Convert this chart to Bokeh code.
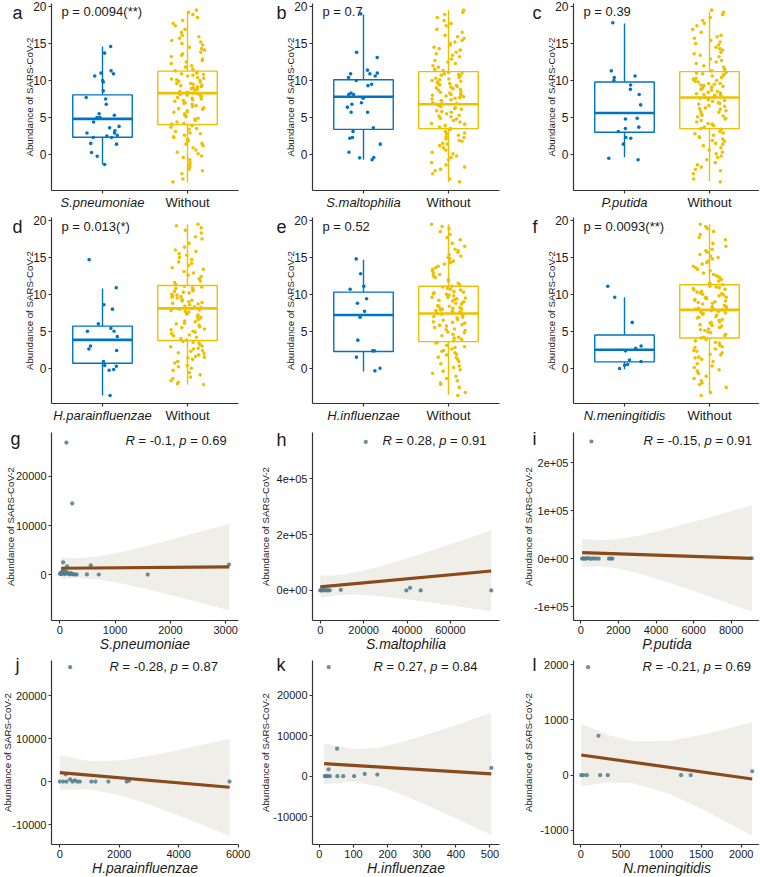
import math
from bokeh.plotting import figure
from bokeh.models import Range1d, Label, FixedTicker, LinearAxis
from bokeh.layouts import gridplot
from bokeh.embed import file_html
from bokeh.resources import INLINE

FONT = "Liberation Sans"
BLUE = "#0073C2"
YEL = "#EFC000"
PT_COLOR = "#4E7C8C"
LINE = "#8B4A1C"
BAND = "#EFEEE8"
TXT = "#1a1a1a"
AX = "#333333"

# ---------------- data: box plots ----------------
box_names = ["S.pneumoniae", "S.maltophilia", "P.putida",
             "H.parainfluenzae", "H.influenzae", "N.meningitidis"]
box_letters = ["a", "b", "c", "d", "e", "f"]
box_pvals = ["p = 0.0094(**)", "p = 0.7", "p = 0.39",
             "p = 0.013(*)", "p = 0.52", "p = 0.0093(**)"]
box_yticks = [0, 5, 10, 15, 20]

a_with = [14.6, 13.7, 11.0, 10.6, 10.9, 11.3, 10.0, 9.8, 8.6, 7.7, 7.5, 6.8, 5.5, 5.3, 5.0, 5.0,
          4.4, 3.8, 3.6, 3.2, 2.9, 2.9, 2.5, 2.6, 2.3, 2.3, 1.5, 1.4, 0.27, -0.23, -1.35]
b_with = [19.0, 13.8, 13.1, 11.4, 11.0, 10.9, 10.9, 10.6, 10.4, 10.0, 9.5, 9.3, 8.3, 8.1, 8.1,
          7.6, 7.0, 6.8, 6.4, 5.7, 5.7, 3.6, 3.1, 2.3, 2.2, 1.4, 0.3, -0.4, -0.45, -0.7]
c_with = [17.8, 11.3, 10.6, 10.4, 10.0, 9.4, 8.1, 8.8, 6.7, 4.9, 4.8, 3.7, 3.5, 3.1, 2.2, 2.3,
          1.4, -0.5, -0.7]
d_with = [14.7, 10.9, 8.6, 8.0, 6.0, 5.4, 5.0, 5.0, 4.3, 3.0, 2.4, 2.6, 0.9, 0.27, 0.36, -0.27,
          -0.18, -3.7]
e_with = [14.8, 12.8, 11.1, 10.7, 9.4, 8.8, 7.7, 6.9, 3.8, 2.35, 1.5, 2.35, -0.36, 0.0]
f_with = [11.1, 9.6, 6.2, 2.7, 3.0, 2.35, 1.1, 0.9, 0.5, 0.4, -0.05]

without_main = [
    -3.7, -3.3, -2.6, -2.2, -2.0, -1.7, -1.4, -1.1, -0.7, -0.4, -0.2, 0.1,
    0.3, 0.6, 0.9, 1.2, 1.4, 1.5, 1.8, 1.9,
    2.1, 2.3, 2.4, 2.6, 2.8, 2.9, 3.1, 3.4, 3.5, 3.7, 3.9,
    4.1, 4.2, 4.4, 4.6, 4.8, 4.9, 5.1, 5.2, 5.3, 5.5, 5.7, 5.8, 5.9, 6.1, 6.2, 6.3,
    6.5, 6.6, 6.8, 6.9, 7.0, 7.2, 7.3, 7.4, 7.5, 7.6, 7.7, 7.8, 7.9, 8.0, 8.0,
    8.1, 8.2, 8.3, 8.4, 8.5, 8.7, 8.8, 8.9, 9.0, 9.1, 9.2, 9.3, 9.4, 9.5, 9.6, 9.6,
    9.8, 9.9, 10.0, 10.1, 10.2, 10.3, 10.4, 10.6, 10.7, 10.8, 10.9, 11.0, 11.1,
    11.3, 11.5, 11.8, 12.0, 12.3, 12.5, 12.7, 12.9, 13.2, 13.4, 13.6, 13.8, 14.1,
    14.3, 14.5, 14.8, 15.0, 15.2, 15.4, 15.7, 15.9, 16.1, 16.5, 16.9, 17.4, 17.7,
    18.1, 18.5, 18.9, 19.2, 19.5]
without_d = [
    -2.2, -2.1, -1.9, -1.7, -1.4, -1.2, -0.9, -0.6, -0.3, 0.0, 0.2,
    0.4, 0.7, 0.9, 1.2, 1.4, 1.5, 1.6, 1.8, 2.0,
    2.1, 2.3, 2.4, 2.6, 2.7, 2.9, 3.0, 3.2, 3.4, 3.5, 3.6, 3.8,
    4.0, 4.2, 4.4, 4.5, 4.7, 4.9, 5.0, 5.2, 5.3, 5.5, 5.6, 5.8, 6.0, 6.1, 6.3,
    6.4, 6.6, 6.7, 6.9, 7.0, 7.2, 7.3, 7.4, 7.6, 7.7, 7.8, 7.9, 8.0, 8.1,
    8.2, 8.3, 8.4, 8.6, 8.7, 8.8, 8.9, 9.0, 9.1, 9.2, 9.3, 9.5, 9.6, 9.7,
    9.8, 9.9, 10.0, 10.2, 10.3, 10.4, 10.5, 10.6, 10.8, 10.9, 11.0, 11.1,
    11.3, 11.6, 11.8, 12.1, 12.4, 12.6, 12.9, 13.1, 13.4, 13.6, 13.9, 14.2,
    14.4, 14.7, 15.0, 15.3, 15.5, 15.8, 16.0, 16.4, 16.9, 17.5, 17.8, 18.3,
    18.7, 19.0, 19.3, 19.5]

# box statistics: [lower whisker, Q1, median, Q3, upper whisker]
a_with_stats = [-1.35, 2.34, 4.82, 8.06, 14.6]
a_wo_stats = [-3.74, 4.05, 8.29, 11.26, 19.4]
b_with_stats = [-0.7, 3.4, 7.8, 10.1, 18.9]
b_wo_stats = [-3.7, 3.5, 6.8, 11.2, 19.5]
c_with_stats = [-0.36, 3.0, 5.6, 9.8, 17.7]
c_wo_stats = [-3.6, 3.5, 7.7, 11.2, 19.3]
d_with_stats = [-3.7, 0.68, 3.84, 5.7, 10.8]
d_wo_stats = [-2.2, 3.75, 8.1, 11.2, 19.5]
e_with_stats = [-0.45, 2.26, 7.2, 10.3, 14.7]
e_wo_stats = [-3.6, 3.6, 7.4, 11.1, 19.5]
f_with_stats = [-0.14, 0.86, 2.5, 4.5, 9.6]
f_wo_stats = [-3.4, 4.1, 7.9, 11.3, 19.5]

# ---------------- data: scatter plots ----------------
g_x = [5, 15, 25, 35, 45, 60, 75, 90, 105, 125, 140, 160, 180, 200, 220, 245, 275, 305,
       490, 705, 1590, 60, 130, 560, 3060, 120, 225]
g_y = [150, 300, 80, 500, 200, 900, 350, 100, 600, 250, 400, 150, 50, 300, 100, 60, 40, 20,
       30, 20, 10, 2500, 1700, 1900, 2050, 26900, 14500]
g_fit_x = [24, 3066]
g_fit_y = [1290, 1560]
g_band_x = [24, 300, 700, 1200, 1800, 2400, 3066]
g_band_lo = [-885, -685, -1003, -2038, -3613, -5310, -7245]
g_band_hi = [3465, 3315, 3703, 4826, 6509, 8312, 10365]

h_x = [0, 400, 900, 1500, 2200, 2900, 3600, 4400, 9500, 39700, 41400, 46300, 78800, 21000]
h_y = [200, 0, 600, 100, 900, 300, 0, 500, 1800, 0, 9500, 0, 0, 531000]
h_fit_x = [0, 78800]
h_fit_y = [12900, 69480]
h_band_x = [0, 8000, 16000, 28000, 42000, 60000, 78800]
h_band_lo = [-26430, -17356, -14942, -20513, -33287, -53090, -75300]
h_band_hi = [52230, 54644, 63718, 86521, 119399, 165050, 214000]

i_x = [70, 130, 200, 280, 360, 450, 560, 680, 800, 950, 1500, 1580, 1680, 566, 9100]
i_y = [0, 800, 300, 0, 1500, 200, 0, 600, 100, 0, 0, 400, 0, 243750, 1000]
i_fit_x = [70, 9100]
i_fit_y = [12524, 649]
i_band_x = [70, 900, 1800, 3000, 4500, 6500, 9100]
i_band_lo = [-16583, -15568, -19214, -29877, -47647, -74103, -110111]
i_band_hi = [41631, 38432, 39710, 47217, 61041, 82237, 111409]

j_x = [0, 112, 224, 347, 425, 504, 582, 672, 1064, 1198, 1635, 2250, 2330, 5711, 347, 200]
j_y = [0, 0, 0, 540, 0, 300, 0, 0, 0, 0, 0, 0, 200, 0, 26600, 1700]
j_fit_x = [0, 5715]
j_fit_y = [2108, -1310]
j_band_x = [0, 1000, 2000, 3000, 4000, 5000, 5715]
j_band_lo = [-1907, -1790, -3103, -5326, -7897, -10606, -12587]
j_band_hi = [6123, 4810, 4927, 5954, 7329, 8842, 9967]

k_x = [16, 20, 25, 27.5, 27, 31, 52, 53, 70, 102, 133, 170, 504]
k_y = [0, 0, 0, 26900, 1700, 0, 6800, 0, 0, 0, 570, 400, 2050]
k_fit_x = [14, 504]
k_fit_y = [3100, 562]
k_band_x = [14, 100, 175, 250, 325, 410, 504]
k_band_lo = [-1958, -1345, -2560, -4842, -7545, -10806, -14522]
k_band_hi = [8158, 6655, 7092, 8598, 10523, 12904, 15646]

l_x = [5, 30, 75, 91, 220, 241, 336, 1250, 1370, 2137]
l_y = [0, 0, 0, 1956, 714, 0, 0, 0, 0, 72]
l_fit_x = [5, 2137]
l_fit_y = [366, -68]
l_band_x = [5, 350, 650, 1100, 1500, 1800, 2137]
l_band_lo = [-198, -131, -145, -335, -606, -834, -1101]
l_band_hi = [930, 722, 615, 621, 729, 834, 964]

scatter_names = ["S.pneumoniae", "S.maltophilia", "P.putida",
                 "H.parainfluenzae", "H.influenzae", "N.meningitidis"]
scatter_letters = ["g", "h", "i", "j", "k", "l"]
scatter_r = ["-0.1", "0.28", "-0.15", "-0.28", "0.27", "-0.21"]
scatter_p = ["0.69", "0.91", "0.91", "0.87", "0.84", "0.69"]

g_xticks = [0, 1000, 2000, 3000]
h_xticks = [0, 20000, 40000, 60000]
i_xticks = [0, 2000, 4000, 6000, 8000]
j_xticks = [0, 2000, 4000, 6000]
k_xticks = [0, 100, 200, 300, 400, 500]
l_xticks = [0, 500, 1000, 1500, 2000]
g_yticks = [0, 10000, 20000]
g_ylabels = ["0", "10000", "20000"]
h_yticks = [0, 200000, 400000]
h_ylabels = ["0e+00", "2e+05", "4e+05"]
i_yticks = [-100000, 0, 100000, 200000]
i_ylabels = ["-1e+05", "0e+00", "1e+05", "2e+05"]
j_yticks = [-10000, 0, 10000, 20000]
j_ylabels = ["-10000", "0", "10000", "20000"]
k_yticks = [-10000, 0, 10000, 20000]
k_ylabels = ["-10000", "0", "10000", "20000"]
l_yticks = [-1000, 0, 1000, 2000]
l_ylabels = ["-1000", "0", "1000", "2000"]

# ---------------- layout geometry (pixels) ----------------
COLW = [261, 261, 237]       # figure widths
PLEFT = [51, 51, 51]         # left edge of the plotting box inside each figure
FW = 187                     # width of the plotting box
ROWH = [213, 215, 224, 224]  # figure heights
PTOP = [3, 4, 4, 8]          # top edge of the plotting box
FH = [187, 186, 188, 184]    # height of the plotting box
PBOT = [ROWH[r] - PTOP[r] - FH[r] for r in range(4)]

CW = {' ': .278, '=': .584, '-': .333, '.': .278, ',': .278, 'R': .722, 'p': .556}


def text_w(s, size):
    return sum(CW.get(ch, .556) for ch in s) * size


def jitter(n, seed, width=0.2):
    out = []
    for i in range(n):
        v = math.sin((i + 1) * 12.9898 + seed * 78.233) * 43758.5453
        out.append((v - math.floor(v) - 0.5) * 2 * width)
    return out


def style_axis(ax, size):
    ax.axis_line_color = AX
    ax.axis_line_width = 1.2
    ax.major_tick_line_color = AX
    ax.major_tick_line_width = 1.2
    ax.major_tick_out = 3
    ax.major_tick_in = 0
    ax.minor_tick_line_color = None
    ax.major_label_text_font = FONT
    ax.major_label_text_font_size = size
    ax.major_label_text_color = TXT
    ax.major_label_standoff = 2


def make_fig(col, row, xr, yr, tick_size):
    W, H = COLW[col], ROWH[row]
    L, T, B = PLEFT[col], PTOP[row], PBOT[row]
    sx = (xr[1] - xr[0]) / FW
    sy = (yr[1] - yr[0]) / FH[row]
    X = (xr[0] - L * sx, xr[1] + (W - L - FW) * sx)
    Y = (yr[0] - B * sy, yr[1] + T * sy)
    p = figure(width=W, height=H, x_range=Range1d(*X), y_range=Range1d(*Y),
               output_backend="svg", toolbar_location=None,
               min_border_left=0, min_border_right=0, min_border_top=0, min_border_bottom=0)
    p.outline_line_color = None
    p.xgrid.visible = False
    p.ygrid.visible = False
    p.background_fill_color = "white"
    p.border_fill_color = "white"
    p.yaxis.fixed_location = xr[0]
    p.yaxis.bounds = (yr[0], yr[1])
    p.xaxis.fixed_location = yr[0]
    p.xaxis.bounds = (xr[0], xr[1])
    style_axis(p.xaxis[0], tick_size)
    style_axis(p.yaxis[0], tick_size)
    return p


def add_text(p, x, y, text, size, style="normal", align="left", angle=0.0, xu="screen"):
    # y is the vertical centre of the text, in pixels up from the figure bottom
    p.add_layout(Label(x=x, y=y, x_units=xu, y_units="screen", text=text, text_font=FONT,
                       text_font_size=size, text_font_style=style, text_color=TXT,
                       text_align=align, text_baseline="middle", angle=angle))


def box_panel(idx, with_pts, wo_pts, st_with, st_wo):
    col, row = idx % 3, idx // 3
    xr = (0.4, 2.6)
    yr = (-4.86, 20.4) if row == 0 else (-4.78, 20.41)
    p = make_fig(col, row, xr, yr, "12px")
    L, T, B, H = PLEFT[col], PTOP[row], PBOT[row], ROWH[row]
    p.yaxis.ticker = FixedTicker(ticks=box_yticks)
    # category labels: italic species name on the main axis, plain "Without" on a second one
    p.xaxis.ticker = FixedTicker(ticks=[1])
    p.xaxis.major_label_overrides = {1: box_names[idx]}
    p.xaxis.major_label_text_font_style = "italic"
    p.xaxis.major_label_text_font_size = "13px"
    p.xaxis.major_label_standoff = 1
    ax2 = LinearAxis(ticker=FixedTicker(ticks=[2]), major_label_overrides={2: "Without"},
                     fixed_location=yr[0], bounds=xr)
    style_axis(ax2, "13px")
    ax2.axis_line_color = None
    ax2.major_label_standoff = 1
    p.add_layout(ax2, "below")
    groups = [(with_pts, st_with, BLUE), (wo_pts, st_wo, YEL)]
    for k, (pts, st, c) in enumerate(groups):
        x = k + 1
        p.segment(x0=[x, x], y0=[st[0], st[3]], x1=[x, x], y1=[st[1], st[4]],
                  line_color=c, line_width=1.4)
        p.quad(left=[x - 0.35], right=[x + 0.35], bottom=[st[1]], top=[st[3]],
               fill_color="white", line_color=c, line_width=1.4)
        p.segment(x0=[x - 0.35], y0=[st[2]], x1=[x + 0.35], y1=[st[2]],
                  line_color=c, line_width=2.6)
    for k, (pts, st, c) in enumerate(groups):
        off = jitter(len(pts), idx * 2 + k + 1)
        p.scatter([k + 1 + o for o in off], pts, size=3.6, color=c, line_color=None)
    ldx = [-39, -36, -41][col]
    add_text(p, L + ldx, H - T - 9, box_letters[idx], "18px")
    add_text(p, L + 10, H - T - (7.5 if row == 0 else 8.5), box_pvals[idx], "13px")
    add_text(p, L - 22.5, B + FH[row] / 2.0, "Abundance of SARS-CoV-2", "9.7px",
             align="center", angle=math.pi / 2)
    return p


def scatter_panel(idx, xs, ys, fx, fy, bx, blo, bhi, xr, yr, xt, yt, ytl, pos):
    col, row = idx % 3, 2 + idx // 3
    p = make_fig(col, row, xr, yr, "11px")
    L, T, B, H = PLEFT[col], PTOP[row], PBOT[row], ROWH[row]
    p.xaxis.ticker = FixedTicker(ticks=xt)
    p.xaxis.major_label_overrides = {v: str(v) for v in xt}
    p.yaxis.ticker = FixedTicker(ticks=yt)
    p.yaxis.major_label_overrides = {v: s for v, s in zip(yt, ytl)}
    p.varea(x=bx, y1=blo, y2=bhi, fill_color=BAND, fill_alpha=1.0)
    p.scatter(xs, ys, size=4.2, color=PT_COLOR, alpha=0.85, line_color=None)
    p.line(fx, fy, line_color=LINE, line_width=3.2)
    add_text(p, L + pos["ldx"], H - T - pos["ldy"], scatter_letters[idx], "18px")
    parts = [("R", "italic"), (" = " + scatter_r[idx] + ", ", "normal"),
             ("p", "italic"), (" = " + scatter_p[idx], "normal")]
    x = L + pos["rdx"]
    for s, st in parts:
        lead = len(s) - len(s.lstrip(" "))
        add_text(p, x + lead * 0.278 * 13, H - T - pos["rdy"], s.strip(" "), "13px", style=st)
        x += text_w(s, 13)
    add_text(p, L + pos["ydx"], B + FH[row] / 2.0, "Abundance of SARS-CoV-2", "9.7px",
             align="center", angle=math.pi / 2)
    add_text(p, L + FW / 2.0, B - pos["xdy"], scatter_names[idx], pos["xs"], style="italic",
             align="center")
    return p


pa = box_panel(0, a_with, without_main, a_with_stats, a_wo_stats)
pb = box_panel(1, b_with, without_main, b_with_stats, b_wo_stats)
pc = box_panel(2, c_with, without_main, c_with_stats, c_wo_stats)
pd = box_panel(3, d_with, without_d, d_with_stats, d_wo_stats)
pe = box_panel(4, e_with, without_main, e_with_stats, e_wo_stats)
pf = box_panel(5, f_with, without_main, f_with_stats, f_wo_stats)

pg = scatter_panel(0, g_x, g_y, g_fit_x, g_fit_y, g_band_x, g_band_lo, g_band_hi,
                   (-150, 3232), (-9356, 28950), g_xticks, g_yticks, g_ylabels,
                   dict(ldx=-41, ldy=6, rdx=74, rdy=7.5, ydx=-41, xdy=23, xs="14px"))
ph = scatter_panel(1, h_x, h_y, h_fit_x, h_fit_y, h_band_x, h_band_lo, h_band_hi,
                   (-3540, 82600), (-107500, 564800), h_xticks, h_yticks, h_ylabels,
                   dict(ldx=-36, ldy=7.5, rdx=70, rdy=7.5, ydx=-47, xdy=23, xs="14px"))
pi_ = scatter_panel(2, i_x, i_y, i_fit_x, i_fit_y, i_band_x, i_band_lo, i_band_hi,
                    (-389, 9557), (-128500, 262500), i_xticks, i_yticks, i_ylabels,
                    dict(ldx=-41, ldy=6.5, rdx=70, rdy=7.5, ydx=-45, xdy=23, xs="14px"))
pj = scatter_panel(3, j_x, j_y, j_fit_x, j_fit_y, j_band_x, j_band_lo, j_band_hi,
                   (-280, 6013), (-14617, 28152), j_xticks, j_yticks, j_ylabels,
                   dict(ldx=-36, ldy=4.5, rdx=58, rdy=6.2, ydx=-44, xdy=23.5, xs="14px"))
pk = scatter_panel(4, k_x, k_y, k_fit_x, k_fit_y, k_band_x, k_band_lo, k_band_hi,
                   (-20, 528), (-16840, 28540), k_xticks, k_yticks, k_ylabels,
                   dict(ldx=-36, ldy=4.5, rdx=61, rdy=6.2, ydx=-47, xdy=23.5, xs="14px"))
pl = scatter_panel(5, l_x, l_y, l_fit_x, l_fit_y, l_band_x, l_band_lo, l_band_hi,
                   (-91, 2240), (-1254, 2076), l_xticks, l_yticks, l_ylabels,
                   dict(ldx=-41, ldy=4, rdx=69, rdy=6.2, ydx=-45, xdy=23.5, xs="14px"))

grid = gridplot([[pa, pb, pc], [pd, pe, pf], [pg, ph, pi_], [pj, pk, pl]],
                toolbar_location=None)

open("out.html", "w").write(file_html(grid, INLINE))
